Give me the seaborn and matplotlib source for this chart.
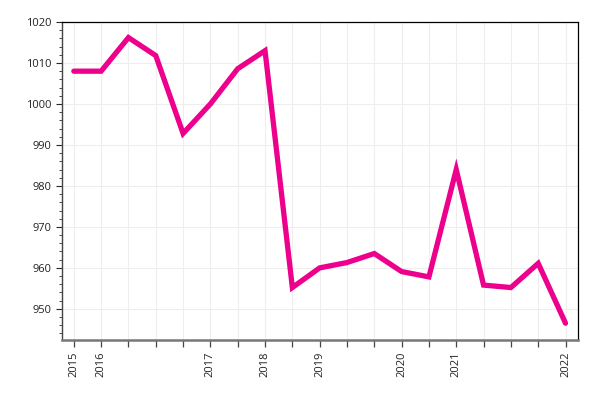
import numpy as np
import pandas as pd
import seaborn as sns
import matplotlib.pyplot as plt
from matplotlib.ticker import MultipleLocator

# values
labels = ['2015', '2016', '', '', '', '2017', '', '2018', '', '2019',
          '', '', '2020', '', '2021', '', '', '', '2022']
values = [1008.0, 1008.0, 1016.2, 1011.8, 992.8, 1000.0, 1008.6, 1013.0, 955.2,
          960.0, 961.3, 963.5, 959.1, 957.8, 984.0, 955.8, 955.2, 961.1, 946.5]

df = pd.DataFrame({'idx': np.arange(len(values)), 'value': values})

sns.set_style('white')
plt.rcParams['font.family'] = ['Open Sans', 'DejaVu Sans']

fig, ax = plt.subplots(figsize=(6, 4), dpi=100)
fig.subplots_adjust(left=0.103, right=0.963, top=0.945, bottom=0.15)

sns.lineplot(data=df, x='idx', y='value', color='#EC008C', linewidth=3.8,
             solid_capstyle='round', solid_joinstyle='miter', ax=ax, zorder=3)

ax.set_xticks(df['idx'])
ax.set_xticklabels(labels, rotation=90, fontsize=8, color='#222222')
ax.set_xlim(-0.44, 18.45)
ax.set_ylim(942.4, 1020)
ax.yaxis.set_major_locator(MultipleLocator(10))
ax.yaxis.set_minor_locator(MultipleLocator(2))
ax.tick_params(axis='y', which='major', length=4, width=0.8, labelsize=8,
               labelcolor='#222222', left=True)
ax.tick_params(axis='y', which='minor', length=2.5, width=0.6, left=True)
ax.tick_params(axis='x', length=5, width=0.9, color='#444444', bottom=True)

ax.grid(True, which='major', color='#eeeeee', linewidth=0.8)
ax.set_axisbelow(True)
ax.set_xlabel('')
ax.set_ylabel('')

for side in ['top', 'right']:
    ax.spines[side].set_color('black')
    ax.spines[side].set_linewidth(0.9)
ax.spines['left'].set_color('#444444')
ax.spines['left'].set_linewidth(1.0)
ax.spines['bottom'].set_color('#777777')
ax.spines['bottom'].set_linewidth(1.8)

fig.savefig('out.png', dpi=100)
